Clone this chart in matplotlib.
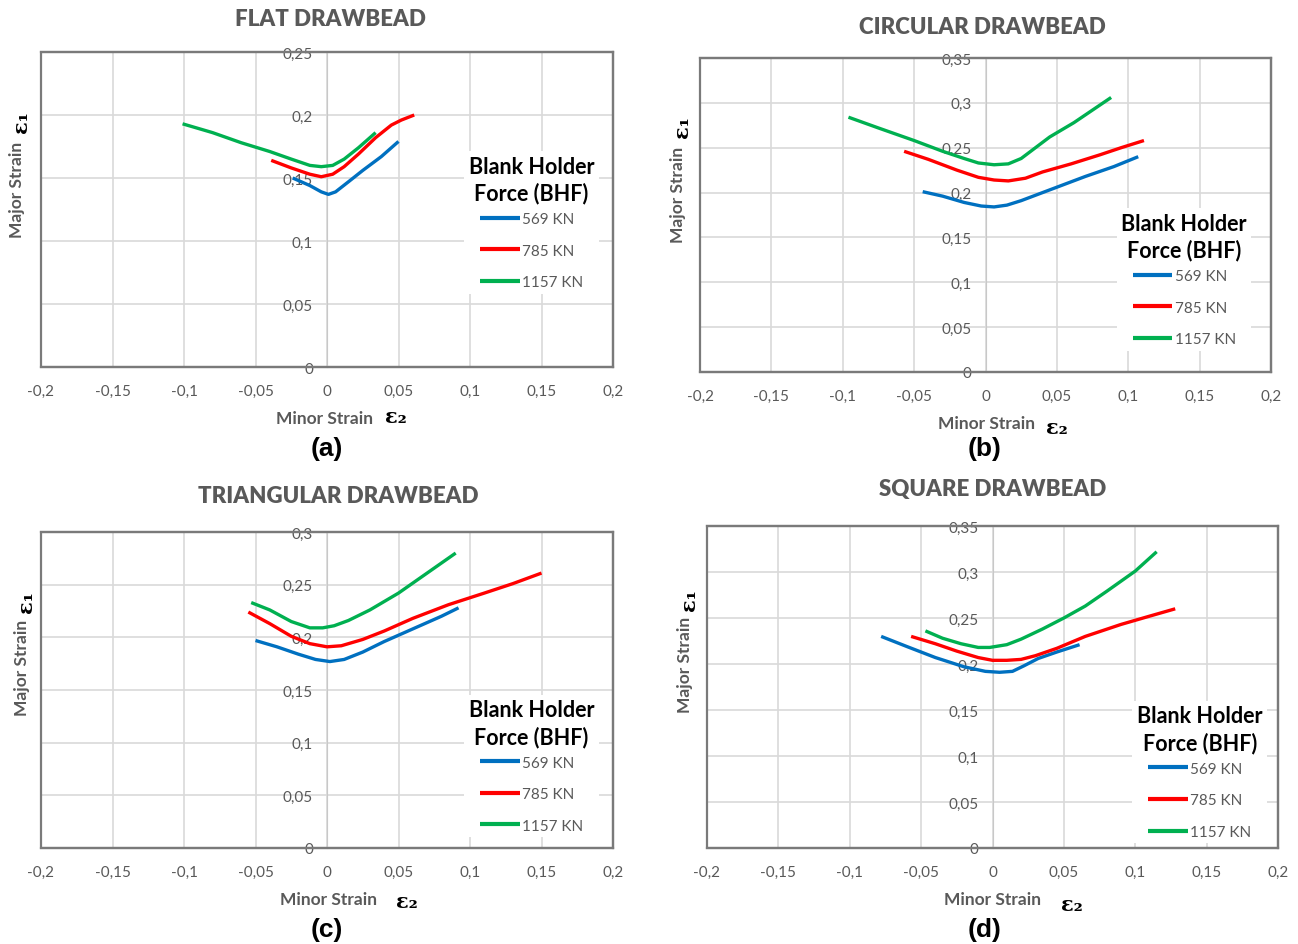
import matplotlib.pyplot as plt
from matplotlib.patches import Rectangle

plt.rcParams['font.family'] = ['Lato', 'DejaVu Sans']

# ------------------------
# Data
# ------------------------
series_names = ["569 KN", "785 KN", "1157 KN"]
series_colors = ["#0070C0", "#FF0000", "#00B050"]

x_ticks = [-0.2, -0.15, -0.1, -0.05, 0, 0.05, 0.1, 0.15, 0.2]
x_tick_labels = ["-0,2", "-0,15", "-0,1", "-0,05", "0", "0,05", "0,1", "0,15", "0,2"]
y_ticks = [0, 0.05, 0.1, 0.15, 0.2, 0.25, 0.3, 0.35]
y_tick_labels = ["0", "0,05", "0,1", "0,15", "0,2", "0,25", "0,3", "0,35"]

# (a) flat drawbead
flat_569_x = [-0.024, -0.012, -0.004, 0.001, 0.006, 0.015, 0.025, 0.038, 0.050]
flat_569_y = [0.150, 0.144, 0.139, 0.137, 0.139, 0.147, 0.156, 0.167, 0.179]
flat_785_x = [-0.039, -0.025, -0.012, -0.004, 0.004, 0.012, 0.022, 0.034, 0.045, 0.052, 0.061]
flat_785_y = [0.164, 0.158, 0.153, 0.151, 0.153, 0.159, 0.169, 0.182, 0.192, 0.196, 0.200]
flat_1157_x = [-0.101, -0.08, -0.06, -0.04, -0.025, -0.012, -0.004, 0.004, 0.012, 0.022, 0.034]
flat_1157_y = [0.193, 0.186, 0.178, 0.171, 0.165, 0.160, 0.159, 0.160, 0.165, 0.174, 0.186]

# (b) circular drawbead
circ_569_x = [-0.044, -0.03, -0.015, -0.003, 0.006, 0.015, 0.025, 0.04, 0.055, 0.07, 0.09, 0.107]
circ_569_y = [0.201, 0.196, 0.189, 0.185, 0.184, 0.186, 0.191, 0.200, 0.209, 0.218, 0.229, 0.240]
circ_785_x = [-0.057, -0.04, -0.02, -0.005, 0.006, 0.016, 0.028, 0.04, 0.06, 0.08, 0.095, 0.111]
circ_785_y = [0.246, 0.237, 0.225, 0.217, 0.214, 0.213, 0.216, 0.223, 0.232, 0.242, 0.250, 0.258]
circ_1157_x = [-0.096, -0.075, -0.05, -0.03, -0.015, -0.005, 0.006, 0.016, 0.025, 0.035, 0.045, 0.062, 0.075, 0.088]
circ_1157_y = [0.284, 0.272, 0.258, 0.246, 0.238, 0.233, 0.231, 0.232, 0.238, 0.250, 0.262, 0.278, 0.292, 0.306]

# (c) triangular drawbead
tri_569_x = [-0.05, -0.035, -0.02, -0.008, 0.002, 0.012, 0.025, 0.04, 0.06, 0.08, 0.092]
tri_569_y = [0.197, 0.191, 0.184, 0.179, 0.177, 0.179, 0.186, 0.196, 0.208, 0.220, 0.228]
tri_785_x = [-0.055, -0.04, -0.025, -0.012, 0.0, 0.01, 0.025, 0.04, 0.06, 0.085, 0.11, 0.13, 0.15]
tri_785_y = [0.224, 0.213, 0.201, 0.194, 0.191, 0.192, 0.198, 0.206, 0.218, 0.231, 0.242, 0.251, 0.261]
tri_1157_x = [-0.053, -0.04, -0.025, -0.012, -0.003, 0.005, 0.015, 0.03, 0.05, 0.07, 0.09]
tri_1157_y = [0.233, 0.226, 0.215, 0.209, 0.209, 0.211, 0.216, 0.226, 0.242, 0.261, 0.280]

# (d) square drawbead
sq_569_x = [-0.078, -0.06, -0.04, -0.02, -0.005, 0.005, 0.014, 0.022, 0.032, 0.045, 0.061]
sq_569_y = [0.230, 0.219, 0.207, 0.197, 0.192, 0.191, 0.192, 0.198, 0.206, 0.213, 0.221]
sq_785_x = [-0.057, -0.04, -0.025, -0.01, 0.0, 0.01, 0.02, 0.03, 0.045, 0.065, 0.09, 0.11, 0.128]
sq_785_y = [0.230, 0.222, 0.214, 0.207, 0.204, 0.204, 0.205, 0.209, 0.217, 0.230, 0.243, 0.252, 0.260]
sq_1157_x = [-0.047, -0.035, -0.022, -0.01, -0.002, 0.01, 0.02, 0.035, 0.05, 0.065, 0.08, 0.1, 0.115]
sq_1157_y = [0.236, 0.228, 0.222, 0.218, 0.218, 0.221, 0.227, 0.238, 0.250, 0.263, 0.279, 0.301, 0.322]

W, H = 1298, 945
GRAY = "#595959"
FRAME = "#7a7a7a"
GRID = "#d9d9d9"


def fx(px):
    return px / W


def fy(py):
    return 1 - py / H


panels = [
    # axes box is (left, top, right, bottom) in pixels, text positions in pixels too
    dict(title="FLAT DRAWBEAD", letter="(a)", ymax=0.25, box=(41, 53, 613, 368),
         data=[(flat_569_x, flat_569_y), (flat_785_x, flat_785_y), (flat_1157_x, flat_1157_y)],
         title_xy=(330, 19), xlab_xy=(325, 419), eps2_xy=(396, 417),
         ylab_xy=(17, 190), eps1_xy=(21, 122), letter_xy=(327, 449), leg=(0.74, 0.685)),
    dict(title="CIRCULAR DRAWBEAD", letter="(b)", ymax=0.35, box=(700, 59, 1271, 373),
         data=[(circ_569_x, circ_569_y), (circ_785_x, circ_785_y), (circ_1157_x, circ_1157_y)],
         title_xy=(982, 28), xlab_xy=(986, 424), eps2_xy=(1057, 428),
         ylab_xy=(678, 195), eps1_xy=(682, 127), letter_xy=(985, 449), leg=(0.73, 0.522)),
    dict(title="TRIANGULAR DRAWBEAD", letter="(c)", ymax=0.3, box=(41, 533, 613, 849),
         data=[(tri_569_x, tri_569_y), (tri_785_x, tri_785_y), (tri_1157_x, tri_1157_y)],
         title_xy=(338, 497), xlab_xy=(328, 900), eps2_xy=(407, 902),
         ylab_xy=(22, 668), eps1_xy=(26, 602), letter_xy=(327, 930), leg=(0.74, 0.485)),
    dict(title="SQUARE DRAWBEAD", letter="(d)", ymax=0.35, box=(707, 527, 1278, 849),
         data=[(sq_569_x, sq_569_y), (sq_785_x, sq_785_y), (sq_1157_x, sq_1157_y)],
         title_xy=(993, 490), xlab_xy=(993, 900), eps2_xy=(1072, 905),
         ylab_xy=(685, 665), eps1_xy=(689, 600), letter_xy=(985, 930), leg=(0.745, 0.457)),
]

fig = plt.figure(figsize=(W / 100, H / 100), dpi=100)

for p in panels:
    l, t, r, b = p["box"]
    ax = fig.add_axes([fx(l), fy(b), (r - l) / W, (b - t) / H])
    ax.set_xlim(-0.2, 0.2)
    ax.set_ylim(0, p["ymax"])

    yt = [v for v in y_ticks if v <= p["ymax"] + 1e-9]
    ax.set_xticks(x_ticks)
    ax.set_xticklabels(x_tick_labels)
    ax.set_yticks(yt)
    ax.set_yticklabels(y_tick_labels[:len(yt)])
    ax.tick_params(length=0, labelsize=11, labelcolor=GRAY)
    ax.tick_params(axis='x', pad=12)
    ax.tick_params(axis='y', pad=10)
    ax.grid(True, color=GRID, lw=1.2)
    ax.set_axisbelow(True)

    # vertical axis crosses at x = 0 like the spreadsheet chart
    ax.spines['left'].set_position(('data', 0))
    ax.spines['left'].set_color("#c8c8c8")
    ax.spines['left'].set_zorder(1)
    for s in ['top', 'right', 'bottom']:
        ax.spines[s].set_color(FRAME)
        ax.spines[s].set_linewidth(1.6)
    ax.add_patch(Rectangle((0, 0), 1, 1, transform=ax.transAxes, fill=False,
                           edgecolor=FRAME, lw=1.6, zorder=1, clip_on=False))

    for (xs, ys), name, col in zip(p["data"], series_names, series_colors):
        ax.plot(xs, ys, color=col, lw=2.4, label=name, zorder=3,
                solid_capstyle='butt')

    leg = ax.legend(loc='upper left', bbox_to_anchor=p["leg"],
                    title="Blank Holder\nForce (BHF)", fontsize=11,
                    frameon=True, fancybox=False, framealpha=1,
                    handlelength=2.6, handletextpad=0.15, labelspacing=1.15,
                    borderpad=0.3, borderaxespad=0)
    leg.get_frame().set_edgecolor('none')
    leg._legend_box.sep = 6  # tighter gap under the title
    ttl = leg.get_title()
    ttl.set_fontweight('bold')
    ttl.set_fontsize(15.5)
    ttl.set_linespacing(1.3)
    ttl.set_multialignment('center')
    for txt in leg.get_texts():
        txt.set_color(GRAY)
    for ln in leg.get_lines():
        ln.set_linewidth(3)

    fig.text(fx(p["title_xy"][0]), fy(p["title_xy"][1]), p["title"], ha='center',
             va='center', fontsize=16, fontweight='heavy', color=GRAY)
    fig.text(fx(p["xlab_xy"][0]), fy(p["xlab_xy"][1]), "Minor Strain", ha='center',
             va='center', fontsize=12.5, fontweight='bold', color=GRAY)
    fig.text(fx(p["eps2_xy"][0]), fy(p["eps2_xy"][1]), "ε₂", ha='center', va='center',
             fontsize=15, fontweight='bold', family='DejaVu Serif', color='black')
    fig.text(fx(p["ylab_xy"][0]), fy(p["ylab_xy"][1]), "Major Strain", ha='center',
             va='center', rotation=90, fontsize=12.5, fontweight='bold', color=GRAY)
    fig.text(fx(p["eps1_xy"][0]), fy(p["eps1_xy"][1]), "ε₁", ha='center', va='center',
             rotation=90, fontsize=15, fontweight='bold', family='DejaVu Serif',
             color='black')
    fig.text(fx(p["letter_xy"][0]), fy(p["letter_xy"][1]), p["letter"], ha='center',
             va='center', fontsize=19, fontweight='bold', family='Liberation Sans',
             color='black')

fig.savefig("out.png", dpi=100)
